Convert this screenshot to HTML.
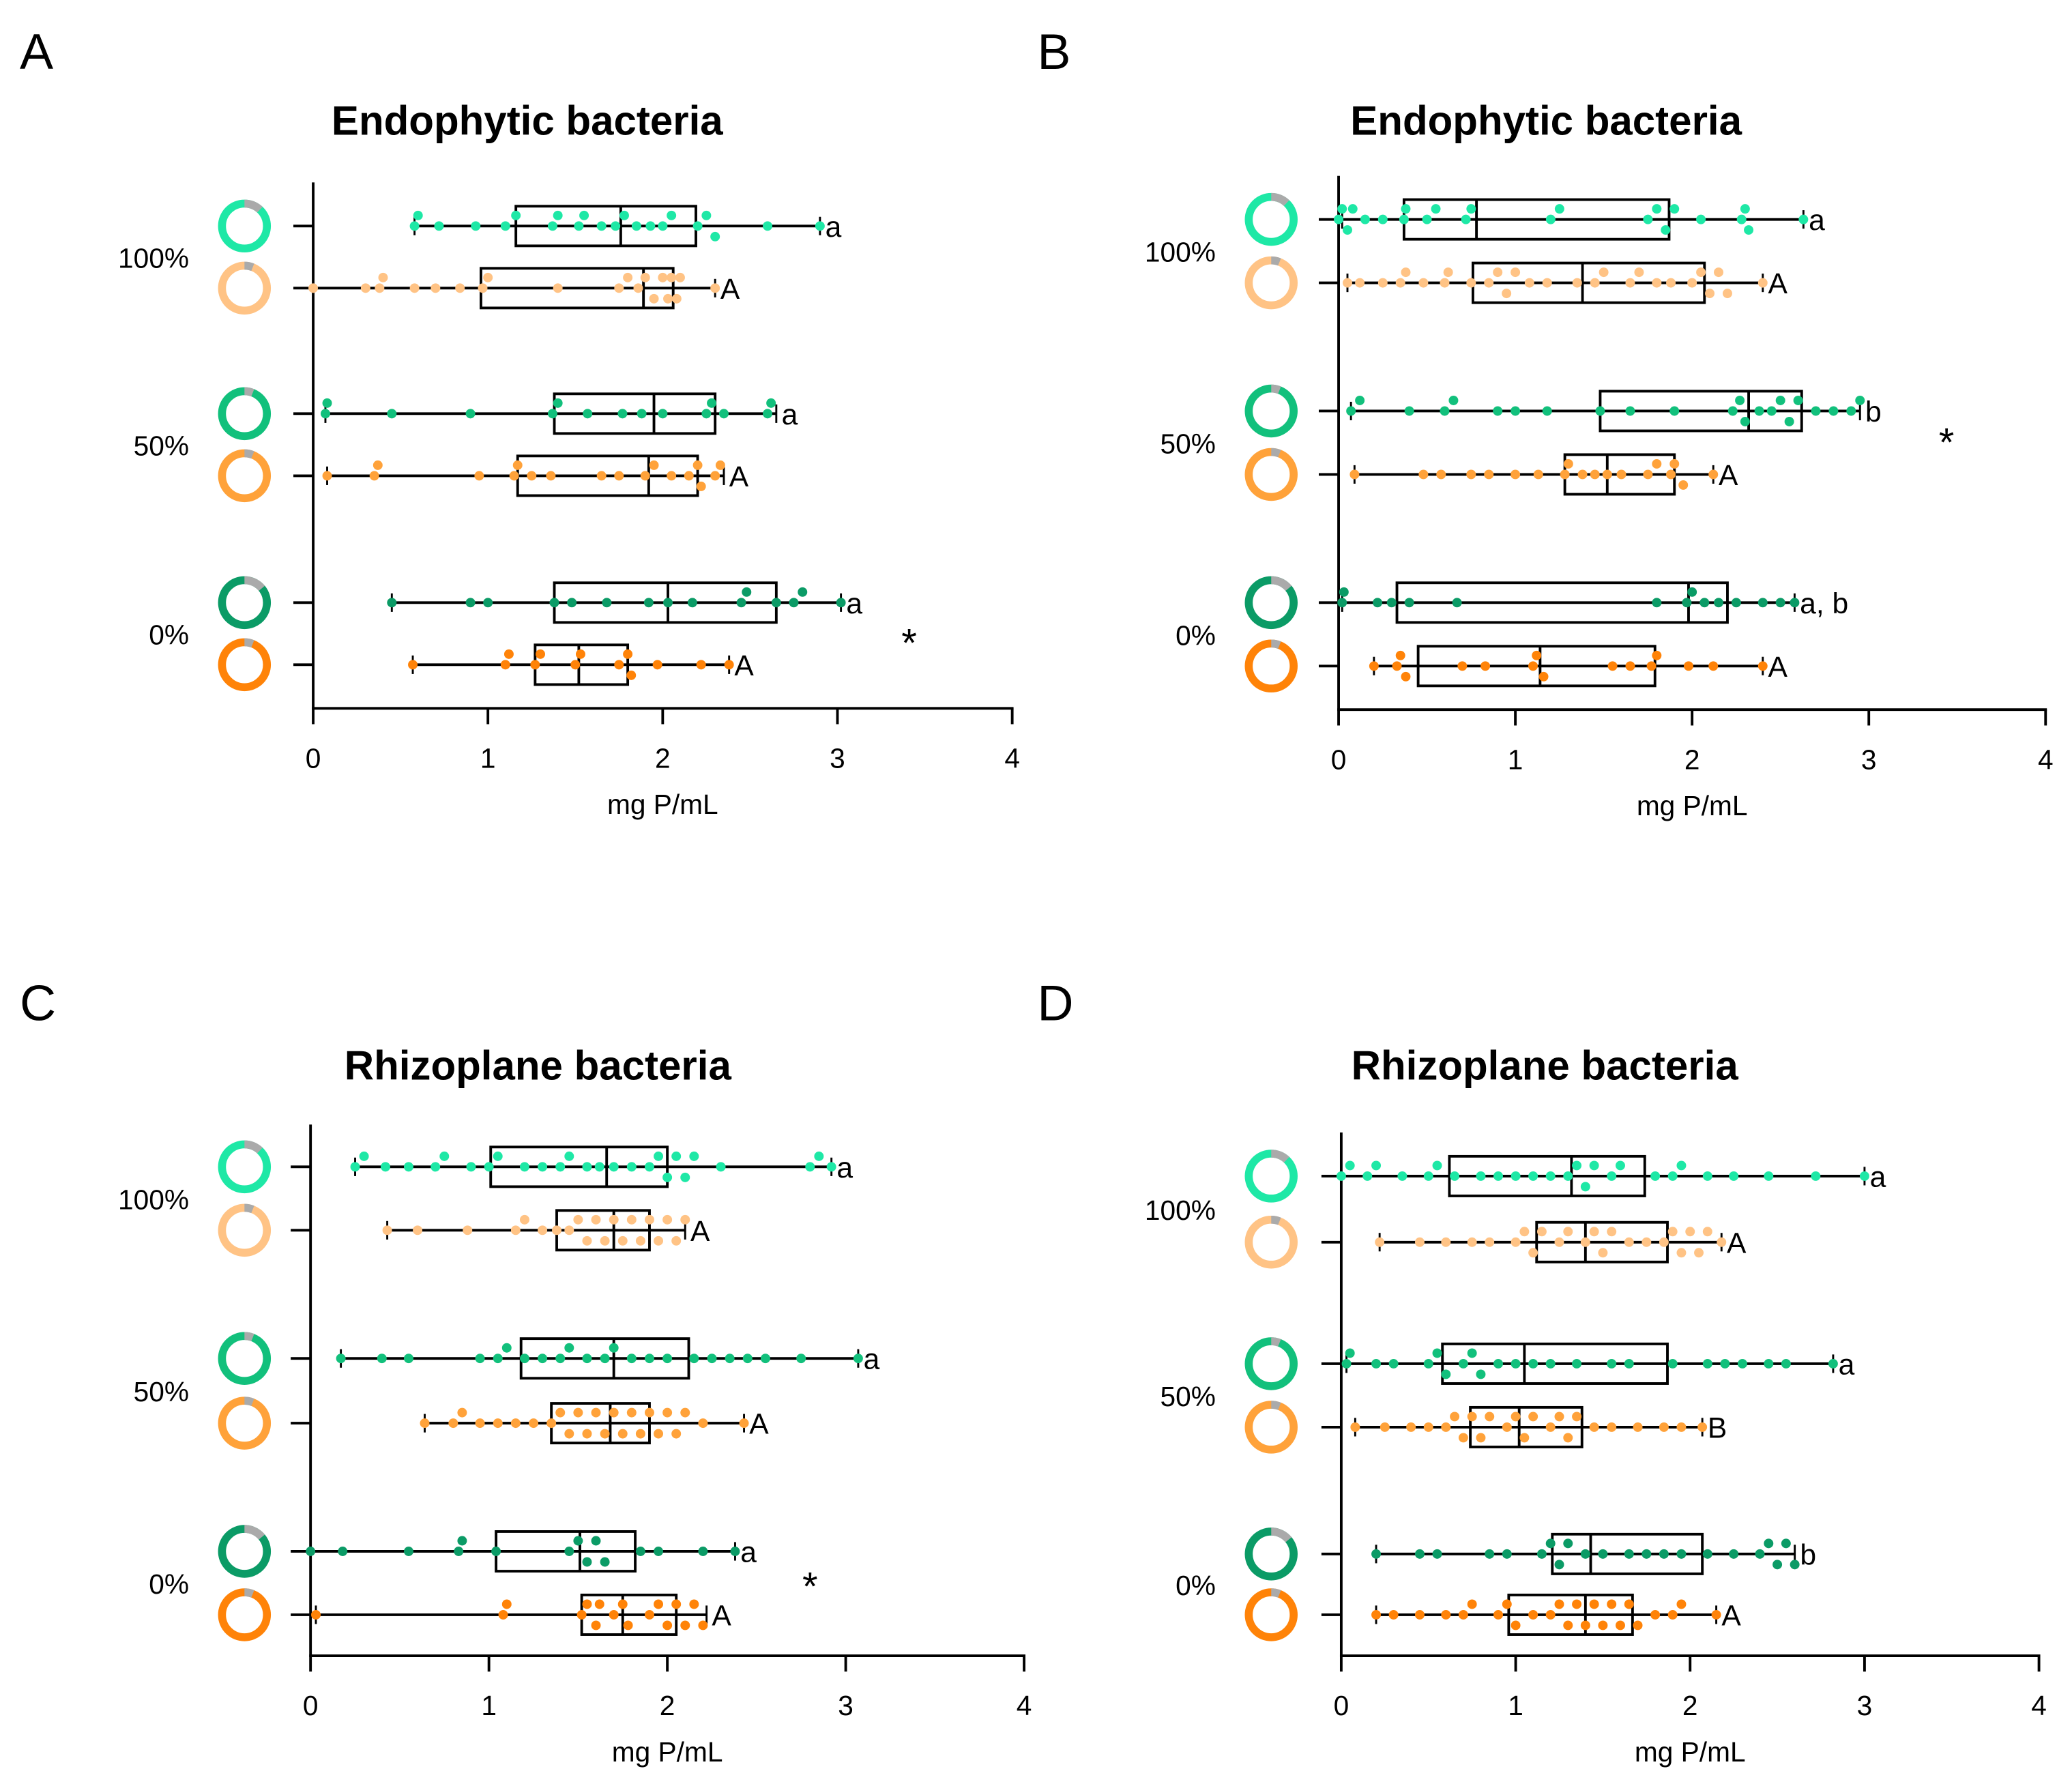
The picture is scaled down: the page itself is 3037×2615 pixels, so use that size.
<!DOCTYPE html>
<html><head><meta charset="utf-8"><style>
html,body{margin:0;padding:0;background:#fff;}
svg{display:block;font-family:"Liberation Sans",sans-serif;}
</style></head><body>
<svg id="fig" width="3037" height="2615" viewBox="0 0 1568 1350" xmlns="http://www.w3.org/2000/svg"></svg>
<script>
// ---- data (mg P/mL) ----
const groupLabels = ["100%","50%","0%"];
const tickLabels = ["0","1","2","3","4"];
const panelTitles = ["Endophytic bacteria","Endophytic bacteria","Rhizoplane bacteria","Rhizoplane bacteria"];
const panelLetters = ["A","B","C","D"];
// stats per row: [min,q1,median,q3,max]
const statsA = [[0.58,1.16,1.76,2.19,2.9],[0,0.96,1.89,2.06,2.3],[0.07,1.38,1.95,2.3,2.65],[0.08,1.17,1.92,2.2,2.35],[0.45,1.38,2.03,2.65,3.02],[0.57,1.27,1.52,1.8,2.38]];
const statsB = [[0.02,0.37,0.78,1.87,2.63],[0.05,0.76,1.38,2.07,2.4],[0.07,1.48,2.32,2.62,2.95],[0.09,1.28,1.52,1.9,2.12],[0.02,0.33,1.98,2.2,2.58],[0.2,0.45,1.14,1.79,2.4]];
const statsC = [[0.25,1.01,1.66,2.0,2.92],[0.43,1.38,1.7,1.9,2.1],[0.17,1.18,1.7,2.12,3.07],[0.64,1.35,1.68,1.9,2.43],[0,1.04,1.51,1.82,2.38],[0.03,1.52,1.75,2.05,2.22]];
const statsD = [[0,0.62,1.32,1.74,3.0],[0.22,1.12,1.4,1.87,2.18],[0.03,0.58,1.05,1.87,2.82],[0.08,0.74,1.02,1.38,2.07],[0.2,1.21,1.43,2.07,2.6],[0.2,0.96,1.4,1.67,2.15]];
const lettersA = ["a","A","a","A","a","A"];
const lettersB = ["a","A","b","A","a, b","A"];
const lettersC = ["a","A","a","A","a","A"];
const lettersD = ["a","A","a","B","b","A"];
const pointsA = [
[0.58,0.6,0.72,0.93,1.1,1.16,1.37,1.4,1.52,1.55,1.65,1.73,1.78,1.85,1.93,2.0,2.05,2.2,2.25,2.3,2.6,2.9],
[0,0.3,0.38,0.4,0.58,0.7,0.84,0.97,1.0,1.4,1.75,1.8,1.86,1.9,1.95,2.0,2.03,2.05,2.08,2.1,2.3],
[0.07,0.08,0.45,0.9,1.37,1.4,1.57,1.77,1.88,2.0,2.25,2.28,2.35,2.6,2.62],
[0.08,0.35,0.37,0.95,1.15,1.17,1.25,1.36,1.65,1.75,1.9,1.95,2.05,2.15,2.2,2.22,2.3,2.33],
[0.45,0.9,1.0,1.38,1.48,1.68,1.92,2.03,2.17,2.45,2.48,2.65,2.75,2.8,3.02],
[0.57,1.1,1.12,1.27,1.3,1.5,1.53,1.75,1.8,1.82,1.97,2.22,2.38]];
const pointsB = [
[0,0.02,0.05,0.08,0.15,0.25,0.37,0.38,0.5,0.55,0.72,0.75,1.2,1.25,1.75,1.8,1.85,1.9,2.05,2.28,2.3,2.32,2.63],
[0.05,0.12,0.25,0.35,0.38,0.48,0.6,0.62,0.75,0.85,0.9,0.95,1.0,1.08,1.18,1.35,1.45,1.5,1.65,1.7,1.8,1.88,2.0,2.05,2.1,2.15,2.2,2.4],
[0.07,0.12,0.4,0.6,0.65,0.9,1.0,1.18,1.48,1.65,1.9,2.23,2.27,2.3,2.38,2.45,2.5,2.55,2.6,2.7,2.8,2.9,2.95],
[0.09,0.48,0.58,0.75,0.85,1.0,1.13,1.28,1.3,1.38,1.45,1.52,1.6,1.75,1.8,1.88,1.9,1.95,2.12],
[0.02,0.03,0.22,0.3,0.4,0.67,1.8,1.97,2.0,2.07,2.15,2.25,2.4,2.5,2.58],
[0.2,0.33,0.35,0.38,0.7,0.83,1.1,1.12,1.16,1.55,1.65,1.77,1.8,1.98,2.12,2.4]];
const pointsC = [
[0.25,0.3,0.42,0.55,0.7,0.75,0.9,1.0,1.05,1.2,1.3,1.4,1.45,1.55,1.62,1.7,1.8,1.9,1.95,2.0,2.05,2.1,2.15,2.3,2.8,2.85,2.92],
[0.43,0.6,0.88,1.15,1.2,1.3,1.38,1.45,1.5,1.55,1.6,1.65,1.7,1.75,1.8,1.85,1.9,1.95,2.0,2.05,2.1],
[0.17,0.4,0.55,0.95,1.05,1.1,1.2,1.3,1.4,1.45,1.55,1.65,1.7,1.8,1.9,2.0,2.15,2.25,2.35,2.45,2.55,2.75,3.07],
[0.64,0.8,0.85,0.95,1.05,1.15,1.25,1.35,1.4,1.45,1.5,1.55,1.6,1.65,1.7,1.75,1.8,1.85,1.9,1.95,2.0,2.05,2.1,2.2,2.43],
[0,0.18,0.55,0.83,0.85,1.04,1.45,1.5,1.55,1.6,1.65,1.85,1.95,2.2,2.38],
[0.03,1.08,1.1,1.52,1.55,1.6,1.62,1.7,1.75,1.78,1.9,1.95,2.0,2.05,2.1,2.15,2.2]];
const pointsD = [
[0,0.05,0.15,0.2,0.35,0.5,0.55,0.65,0.8,0.9,1.0,1.1,1.2,1.3,1.35,1.4,1.45,1.55,1.6,1.8,1.9,1.95,2.1,2.25,2.45,2.72,3.0],
[0.22,0.45,0.6,0.75,0.85,1.0,1.05,1.1,1.15,1.25,1.3,1.4,1.45,1.5,1.55,1.65,1.75,1.85,1.9,1.95,2.0,2.05,2.1,2.18],
[0.03,0.05,0.2,0.3,0.5,0.55,0.6,0.7,0.75,0.8,0.9,1.0,1.1,1.2,1.35,1.55,1.65,1.9,2.1,2.2,2.3,2.45,2.55,2.82],
[0.08,0.25,0.4,0.5,0.6,0.65,0.7,0.75,0.8,0.85,0.95,1.0,1.05,1.1,1.2,1.25,1.3,1.35,1.45,1.55,1.7,1.85,1.95,2.07],
[0.2,0.45,0.55,0.85,0.95,1.15,1.2,1.25,1.3,1.4,1.5,1.65,1.75,1.85,1.95,2.1,2.25,2.4,2.45,2.5,2.55,2.6],
[0.2,0.3,0.45,0.6,0.7,0.75,0.9,0.95,1.0,1.1,1.2,1.25,1.3,1.35,1.4,1.45,1.5,1.55,1.6,1.65,1.7,1.8,1.9,1.95,2.15]];
const greyFrac = [0.12,0.06,0.06,0.06,0.14,0.06];

// ---- layout ----
const colors = ["#1EE8A6","#FFC385","#12C07C","#FFA23A","#0B9B66","#FF8308"];
const panels = [
 {x0:237,x4:766,yTop:138,yAx:536,rows:[171,218,313,360,456,503],dx:185,lab:143,lx:15,ly:52,tx:399,ty:102,stats:statsA,pts:pointsA,let:lettersA,star:[688,497]},
 {x0:1013,x4:1548,yTop:133,yAx:537,rows:[166,214,311,359,456,504],dx:962,lab:920,lx:785,ly:52,tx:1170,ty:102,stats:statsB,pts:pointsB,let:lettersB,star:[1473,345]},
 {x0:235,x4:775,yTop:851,yAx:1253,rows:[883,931,1028,1077,1174,1222],dx:185,lab:143,lx:15,ly:772,tx:407,ty:817,stats:statsC,pts:pointsC,let:lettersC,star:[613,1211]},
 {x0:1015,x4:1543,yTop:857,yAx:1253,rows:[890,940,1032,1080,1176,1222],dx:962,lab:920,lx:785,ly:772,tx:1169,ty:817,stats:statsD,pts:pointsD,let:lettersD,star:null}
];
const NS="http://www.w3.org/2000/svg";
const svg=document.getElementById('fig');
function mk(tag,attrs,parent){const e=document.createElementNS(NS,tag);for(const k in attrs)e.setAttribute(k,attrs[k]);(parent||svg).appendChild(e);return e;}

panels.forEach((p,pi)=>{
 const g=mk('g',{});
 
 
 const sx=v=>p.x0+(p.x4-p.x0)*v/4;
 let t=mk('text',{x:p.lx,y:p.ly,'font-size':38},g);t.textContent=panelLetters[pi];
 
 
 t=mk('text',{x:p.tx,y:p.ty,'font-size':31,'font-weight':'bold','text-anchor':'middle'},g);t.textContent=panelTitles[pi];
 
 
 // axes
 let a=mk('line',{x1:p.x0,y1:p.yTop,x2:p.x0,y2:p.yAx,stroke:'#000','stroke-width':2},g);
 
 
 a=mk('line',{x1:p.x0-1,y1:p.yAx,x2:p.x4+1,y2:p.yAx,stroke:'#000','stroke-width':2},g);
 
 
 tickLabels.forEach((tl,i)=>{
  const x=sx(+tl);
  mk('line',{x1:x,y1:p.yAx,x2:x,y2:p.yAx+12,stroke:'#000','stroke-width':2},g);
  const tt=mk('text',{x:x,y:p.yAx+45,'font-size':21,'text-anchor':'middle'},g);tt.textContent=tl;
  
  
 });
 t=mk('text',{x:(p.x0+p.x4)/2,y:p.yAx+80,'font-size':21,'text-anchor':'middle'},g);t.textContent="mg P/mL";
 
 
 // group labels
 groupLabels.forEach((gl,i)=>{
  const yy=(p.rows[2*i]+p.rows[2*i+1])/2+8;
  const e=mk('text',{x:p.lab,y:yy,'font-size':21,'text-anchor':'end'},g);e.textContent=gl;
  
  
 });
 if(p.star){const s=mk('text',{x:p.star[0],y:p.star[1],'font-size':30,'text-anchor':'middle'},g);s.textContent="*";
  
  }
 p.rows.forEach((y,r)=>{
  const st=p.stats[r], col=colors[r];
  const rg=mk('g',{},g);
  
  
  // donut
  const R=17, sw=6, C=2*Math.PI*R;
  mk('circle',{cx:p.dx,cy:y,r:R,fill:'none',stroke:col,'stroke-width':sw},rg);
  const gr=mk('circle',{cx:p.dx,cy:y,r:R,fill:'none',stroke:'#aaa','stroke-width':sw,'stroke-dasharray':(C*greyFrac[r])+' '+C,transform:'rotate(-90 '+p.dx+' '+y+')'},rg);
  
  
  // tick
  mk('line',{x1:p.x0-15,y1:y,x2:p.x0,y2:y,stroke:'#000','stroke-width':2},rg);
  // whisker
  mk('line',{x1:sx(st[0]),y1:y,x2:sx(st[4]),y2:y,stroke:'#000','stroke-width':2},rg);
  mk('line',{x1:sx(st[0]),y1:y-7,x2:sx(st[0]),y2:y+7,stroke:'#000','stroke-width':1.5},rg);
  mk('line',{x1:sx(st[4]),y1:y-7,x2:sx(st[4]),y2:y+7,stroke:'#000','stroke-width':1.5},rg);
  const b=mk('rect',{x:sx(st[1]),y:y-15,width:sx(st[3])-sx(st[1]),height:30,fill:'none',stroke:'#000','stroke-width':2},rg);
  
  
  mk('line',{x1:sx(st[2]),y1:y-15,x2:sx(st[2]),y2:y+15,stroke:'#000','stroke-width':2},rg);
  // points with simple beeswarm jitter
  let prev=-9, k=0;
  p.pts[r].forEach(v=>{
   if(v-prev<0.06){k++;}else{k=0;}
   prev=v;
   const off=k===0?0:(k%2===1?-8:8);
   const c=mk('circle',{cx:sx(v),cy:y+off,r:3.6,fill:col},rg);
   
   
  });
  const lt=mk('text',{x:sx(st[4])+4,y:y+8,'font-size':22},rg);lt.textContent=p.let[r];
  
  
 });
});
</script>
</body></html>
